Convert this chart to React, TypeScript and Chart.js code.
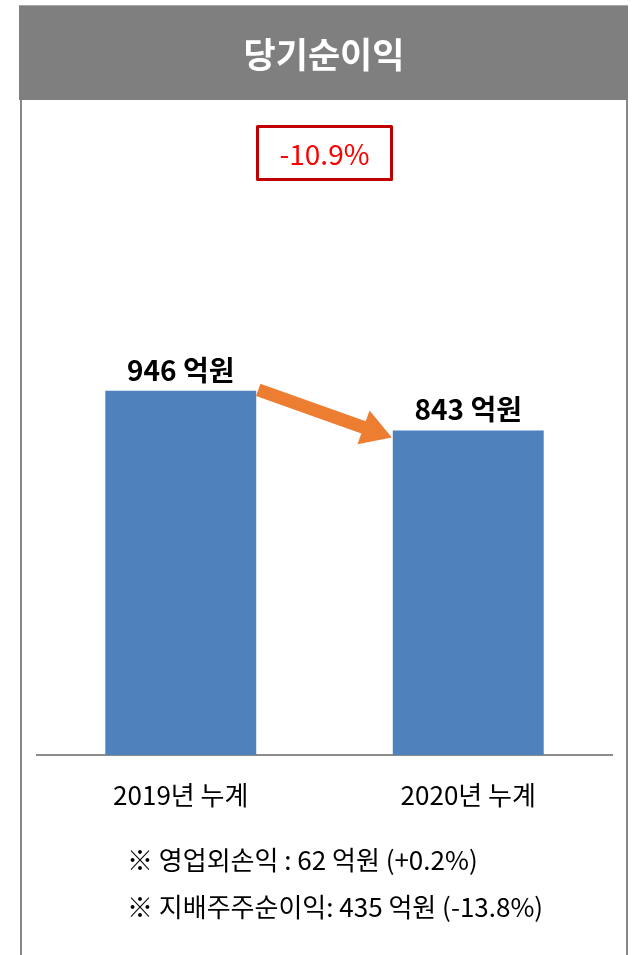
import React, { useEffect, useRef } from "react";
import { Chart, registerables } from "chart.js";

Chart.register(...registerables);

const titleText = "당기순이익";
const categories = ["2019년 누계", "2020년 누계"];
const netIncome = [946, 843];
const valueLabels = ["946 억원", "843 억원"];
const changeLabel = "-10.9%";
const notes = ["※ 영업외손익 : 62 억원 (+0.2%)", "※ 지배주주순이익: 435 억원 (-13.8%)"];

const FONT = '"Noto Sans CJK KR", "Noto Sans", sans-serif';

const decorPlugin = {
  id: "decor",
  beforeDraw(chart: any) {
    const ctx = chart.ctx;
    ctx.save();
    ctx.fillStyle = "#ffffff";
    ctx.fillRect(0, 0, chart.width, chart.height);
    // header
    ctx.fillStyle = "#7f7f7f";
    ctx.fillRect(19, 5, 609, 95);
    ctx.fillStyle = "#a6a6a6";
    ctx.fillRect(19, 5, 609, 1);
    // side borders
    ctx.fillStyle = "#888888";
    ctx.fillRect(20, 100, 2, chart.height - 100);
    ctx.fillRect(626, 100, 2, chart.height - 100);
    // title
    ctx.fillStyle = "#ffffff";
    ctx.font = `bold 35px ${FONT}`;
    ctx.textAlign = "center";
    ctx.textBaseline = "middle";
    ctx.fillText(titleText, 324, 55);
    // change box
    ctx.strokeStyle = "#c00000";
    ctx.lineWidth = 3;
    ctx.lineJoin = "round";
    ctx.strokeRect(257.5, 126.5, 134, 53);
    ctx.fillStyle = "#ff0000";
    ctx.font = `28px ${FONT}`;
    ctx.fillText(changeLabel, 324.5, 154);
    // notes
    ctx.fillStyle = "#000000";
    ctx.font = `26px ${FONT}`;
    ctx.textAlign = "left";
    ctx.fillText(notes[0], 127, 860);
    ctx.fillText(notes[1], 127, 907);
    ctx.restore();
  },
  afterDatasetsDraw(chart: any) {
    const ctx = chart.ctx;
    const bars = chart.getDatasetMeta(0).data;
    ctx.save();
    ctx.fillStyle = "#000000";
    ctx.font = `bold 28px ${FONT}`;
    ctx.textAlign = "center";
    ctx.textBaseline = "alphabetic";
    bars.forEach((b: any, i: number) => {
      ctx.fillText(valueLabels[i], b.x, b.y - 10);
    });
    // arrow from bar 1 to bar 2
    const b1 = bars[0];
    const b2 = bars[1];
    const sx = b1.x + b1.width / 2 + 2;
    const sy = b1.y - 1;
    const ex = b2.x - b2.width / 2 - 1;
    const ey = b2.y + 7;
    const ang = Math.atan2(ey - sy, ex - sx);
    const len = Math.hypot(ex - sx, ey - sy);
    const headLen = 30;
    const headHalf = 18;
    const shaftHalf = 6.5;
    ctx.translate(sx, sy);
    ctx.rotate(ang);
    ctx.fillStyle = "#ed7d31";
    ctx.beginPath();
    ctx.moveTo(0, -shaftHalf);
    ctx.lineTo(len - headLen, -shaftHalf);
    ctx.lineTo(len - headLen, -headHalf);
    ctx.lineTo(len, 0);
    ctx.lineTo(len - headLen, headHalf);
    ctx.lineTo(len - headLen, shaftHalf);
    ctx.lineTo(0, shaftHalf);
    ctx.closePath();
    ctx.fill();
    ctx.restore();
  },
};

export default function App() {
  const ref = useRef<HTMLCanvasElement>(null);
  useEffect(() => {
    if (!ref.current) return;
    const chart = new Chart(ref.current, {
      type: "bar",
      data: {
        labels: categories,
        datasets: [
          {
            data: netIncome,
            backgroundColor: "#4f81bd",
            borderWidth: 0,
            categoryPercentage: 1,
            barPercentage: 0.525,
          },
        ],
      },
      options: {
        responsive: false,
        animation: false,
        layout: { padding: { left: 37, right: 21, top: 216, bottom: 0 } },
        plugins: { legend: { display: false }, tooltip: { enabled: false }, title: { display: false } },
        scales: {
          x: {
            grid: { display: false, drawTicks: false },
            border: { display: true, color: "#8c8c8c", width: 2 },
            ticks: {
              color: "#000000",
              font: { family: FONT, size: 26 },
              padding: 25,
              maxRotation: 0,
              autoSkip: false,
            },
            afterFit(scale: any) {
              scale.height = 200;
            },
          },
          y: { display: false, min: 0, max: 1400 },
        },
      },
      plugins: [decorPlugin],
    });
    return () => chart.destroy();
  }, []);
  return (
    <div style={{ position: "absolute", left: 0, top: 0, width: 633, height: 955 }}>
      <canvas ref={ref} width={633} height={955} />
    </div>
  );
}
